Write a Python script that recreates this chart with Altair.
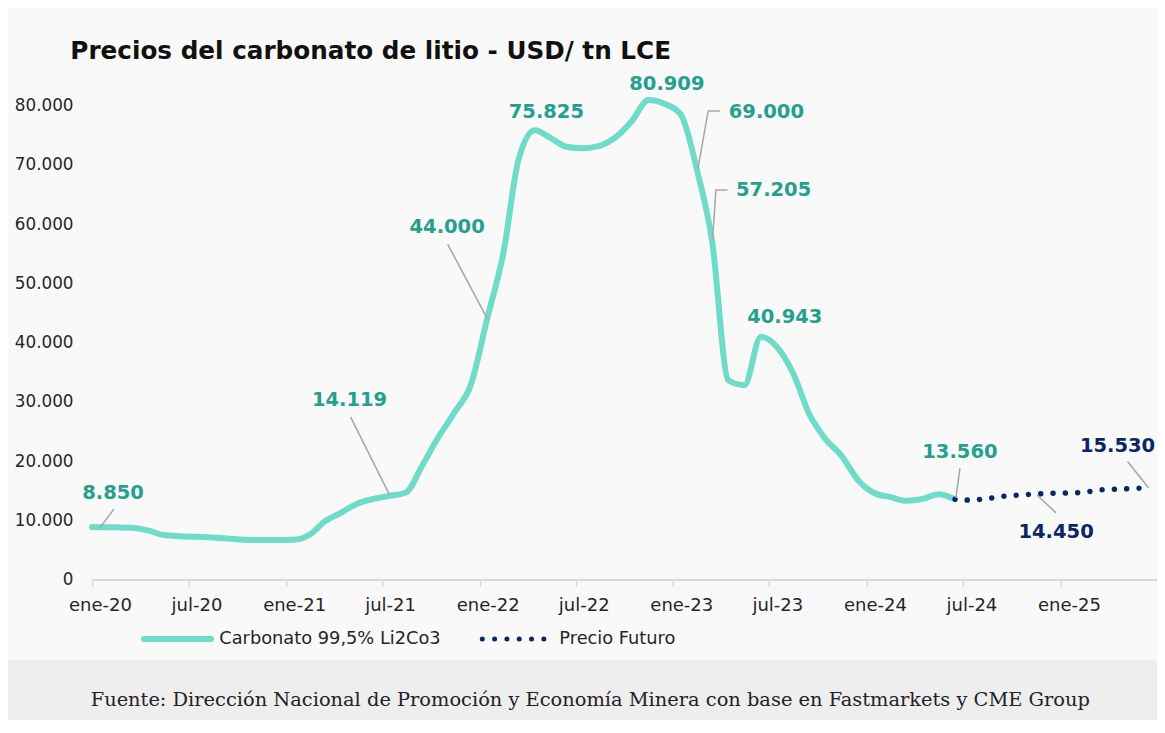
import altair as alt
import pandas as pd

# ---------------- data ----------------
title_text = "Precios del carbonato de litio - USD/ tn LCE"
source_text = ("Fuente: Dirección Nacional de Promoción y Economía Minera con base en "
               "Fastmarkets y CME Group")
series_names = ["Carbonato 99,5% Li2Co3", "Precio Futuro"]

# spot price, monthly (Jan-2020 .. Jun-2024)
spot_dates = ["2020-01-01"] + [f"{y}-{m:02d}-15" for y in range(2020, 2025)
                               for m in range(1, 13)][1:54]
spot_values = [8850, 8800, 8750, 8300, 7500, 7300, 7200, 7100, 6900, 6700, 6650, 6650,
               6700, 7600, 9800, 11300, 12800, 13600, 14119, 14700, 19300, 24000, 28300, 32800,
               44000, 55300, 70800, 75825, 74500, 73000, 72800, 73200, 74700, 77400, 80909, 80300,
               78500, 69000, 57205, 33600, 32800, 40943, 39300, 34800, 27800, 23700, 20800, 16800,
               14600, 13900, 13300, 13600, 14400, 13560]

# futures (Jun-2024 .. Jun-2025)
future_dates = [f"2024-{m:02d}-15" for m in range(6, 13)] + [f"2025-{m:02d}-15" for m in range(1, 7)]
future_values = [13560, 13400, 13650, 14050, 14250, 14450, 14550, 14600, 14750, 15100, 15250,
                 15350, 15530]

tick_dates = ["2020-01-01", "2020-07-01", "2021-01-01", "2021-07-01", "2022-01-01", "2022-07-01",
              "2023-01-01", "2023-07-01", "2024-01-01", "2024-07-01", "2025-01-01", "2025-07-01"]
tick_labels = ["ene-20", "jul-20", "ene-21", "jul-21", "ene-22", "jul-22",
               "ene-23", "jul-23", "ene-24", "jul-24", "ene-25", ""]
y_ticks = [0, 10000, 20000, 30000, 40000, 50000, 60000, 70000, 80000]

# labelled points: (series, index)
labelled = [("spot", 0), ("spot", 18), ("spot", 24), ("spot", 27), ("spot", 34),
            ("spot", 37), ("spot", 38), ("spot", 41), ("spot", 53),
            ("future", 5), ("future", 12)]

# ---------------- layout / style ----------------
TEAL_LINE = "#6fdcca"
TEAL_TEXT = "#25a08d"
NAVY = "#0b2566"
GREY = "#a6a6a6"
FONT = "DejaVu Sans"
W, H = 1065, 474
PAD = {"left": 84, "top": 97.5, "right": 0, "bottom": 140.5}

# label placement in pixels relative to its point: (dx, dy, align, leader vertices)
label_style = [
    (21, -34, "center", [(8, 0.6), (22, -18)]),
    (-40, -96, "center", [(0, -1), (-39, -79)]),
    (-40, -92, "center", [(0, -0.5), (-39.4, -74.5)]),
    (11.5, -18.5, "center", None),
    (18.5, -16, "center", None),
    (31.6, -59, "left", [(0.6, -0.7), (11, -59.7), (22.6, -59.7)]),
    (24, -50.6, "left", [(0.5, -0.6), (3.9, -50.6), (15.5, -50.6)]),
    (24, -20, "center", None),
    (5, -47.5, "center", [(1, -1.2), (5, -31)]),
    (20, 38, "center", [(1, 1.1), (20, 19)]),
    (-31, -41.5, "center", [(0, 0.2), (-21, -26)]),
]

ORIGIN = pd.Timestamp("2020-01-01")


def to_days(ds):
    return [(pd.Timestamp(d) - ORIGIN).days for d in ds]


X_MAX = to_days(["2025-07-01"])[0]
Y_MAX = 80000
DX = X_MAX / W      # days per pixel
DY = Y_MAX / H      # value per pixel

spot = pd.DataFrame({"d": to_days(spot_dates), "v": spot_values})
fut = pd.DataFrame({"d": to_days(future_dates), "v": future_values})
tick_days = to_days(tick_dates)

label_expr = ("[" + ",".join(f"'{t}'" for t in tick_labels) + "][indexof(["
              + ",".join(str(t) for t in tick_days) + "], datum.value)]")

xs = alt.Scale(domain=[0, X_MAX], nice=False, zero=False)
ys = alt.Scale(domain=[0, Y_MAX], nice=False)

x_axis = alt.Axis(values=tick_days, labelExpr=label_expr, title=None, grid=False,
                  domainColor="#d9d9d9", domainWidth=2, tickColor="#d9d9d9", tickWidth=1.5,
                  tickSize=7, labelPadding=10, labelOffset=8, labelFlush=False,
                  labelFont=FONT, labelFontSize=18, labelColor="#262626")
y_axis = alt.Axis(values=y_ticks, labelExpr="replace(format(datum.value, ','), ',', '.')",
                  title=None, grid=False, domain=False, ticks=False, labelPadding=19,
                  labelFont=FONT, labelFontSize=16.8, labelColor="#262626")


def X():
    return alt.X("d:Q", scale=xs, axis=x_axis)


def Y():
    return alt.Y("v:Q", scale=ys, axis=y_axis)


one = pd.DataFrame({"k": [0]})

footer = alt.Chart(one).mark_rect(color="#eeeeee").encode(
    x=alt.value(-PAD["left"]), x2=alt.value(W + PAD["right"] + 10),
    y=alt.value(554.5), y2=alt.value(H + PAD["bottom"] + 10))

footer_text = alt.Chart(one).mark_text(
    text=source_text, font="DejaVu Serif", fontSize=19.4, color="#222222",
    align="center", baseline="middle").encode(x=alt.value(498.3), y=alt.value(594.5))

title = alt.Chart(one).mark_text(
    text=title_text, font=FONT, fontSize=24.7, fontWeight="bold", color="#111111",
    align="left", baseline="alphabetic").encode(x=alt.value(-21.7), y=alt.value(-47))

spot_line = alt.Chart(spot).mark_line(
    color=TEAL_LINE, strokeWidth=6, interpolate="monotone", strokeCap="round",
    strokeJoin="round").encode(x=X(), y=Y())

fut_line = alt.Chart(fut).mark_line(
    color=NAVY, strokeWidth=5.5, interpolate="monotone", strokeCap="round",
    strokeDash=[0.01, 12.3]).encode(x=X(), y=Y())

# legend
leg_y = 533.5
legend = [
    alt.Chart(one).mark_rule(color=TEAL_LINE, strokeWidth=6, strokeCap="round").encode(
        x=alt.value(52), x2=alt.value(119), y=alt.value(leg_y)),
    alt.Chart(one).mark_text(text=series_names[0], font=FONT, fontSize=17.8, color="#262626",
                             align="left", baseline="middle").encode(
        x=alt.value(127.3), y=alt.value(leg_y)),
    alt.Chart(one).mark_rule(color=NAVY, strokeWidth=5, strokeCap="round",
                             strokeDash=[0.01, 12.3]).encode(
        x=alt.value(390.3), x2=alt.value(455), y=alt.value(leg_y)),
    alt.Chart(one).mark_text(text=series_names[1], font=FONT, fontSize=17.8, color="#262626",
                             align="left", baseline="middle").encode(
        x=alt.value(467.3), y=alt.value(leg_y)),
]

ann_layers = []
for (series, idx), (ldx, ldy, align, leader) in zip(labelled, label_style):
    src = spot if series == "spot" else fut
    d0, v0 = float(src["d"][idx]), float(src["v"][idx])
    color = TEAL_TEXT if series == "spot" else NAVY
    txt = f"{int(v0):,}".replace(",", ".")
    if leader:
        pts = pd.DataFrame({"d": [d0 + px * DX for px, py in leader],
                            "v": [v0 - py * DY for px, py in leader],
                            "o": list(range(len(leader)))})
        ann_layers.append(alt.Chart(pts).mark_line(color=GREY, strokeWidth=1.5).encode(
            x=X(), y=Y(), order="o:Q"))
    pt = pd.DataFrame({"d": [d0], "v": [v0], "t": [txt]})
    ann_layers.append(alt.Chart(pt).mark_text(
        font=FONT, fontSize=19.5, fontWeight="bold", color=color, align=align,
        baseline="middle", dx=ldx, dy=ldy).encode(x=X(), y=Y(), text="t:N"))

chart = alt.layer(spot_line, fut_line, *ann_layers, footer, footer_text, title, *legend).properties(
    width=W, height=H, padding=PAD, background="#f9f9f9",
    autosize=alt.AutoSizeParams(type="none"),
).configure_view(stroke=None)

chart.save("out.html", embed_options={"renderer": "svg", "actions": False})
